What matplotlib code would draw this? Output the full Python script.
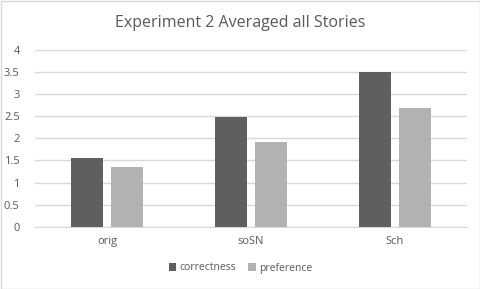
import numpy as np
from matplotlib import pyplot as plt
from matplotlib.patches import Rectangle

categories = ["orig", "soSN", "Sch"]
correctness = [1.55, 2.48, 3.5]
preference = [1.35, 1.92, 2.69]

text_color = "#595959"
grid_color = "#d9d9d9"

plt.rcParams["font.family"] = ["Open Sans", "DejaVu Sans"]

fig = plt.figure(figsize=(4.81, 2.89), dpi=100)
ax = fig.add_axes([35 / 481, 0.2156, 432 / 481, 0.6114])

x = np.arange(len(categories))
w = 0.222
off = 0.142
ax.bar(x - off, correctness, w, color="#5f5f5f", label="correctness", zorder=3)
ax.bar(x + off, preference, w, color="#b2b2b2", label="preference", zorder=3)

ax.set_xlim(-0.5, 2.5)
ax.set_ylim(0, 4)
ax.set_yticks(np.arange(0, 4.01, 0.5))
ax.set_yticklabels(["0", "0.5", "1", "1.5", "2", "2.5", "3", "3.5", "4"])
ax.set_xticks(x)
ax.set_xticklabels(categories)
ax.grid(axis="y", color=grid_color, linewidth=1, zorder=0)
ax.tick_params(length=0, labelsize=8, colors=text_color)
ax.tick_params(axis="y", pad=11)
ax.tick_params(axis="x", pad=7)
for s in ["top", "right", "left"]:
    ax.spines[s].set_visible(False)
ax.spines["bottom"].set_color(grid_color)

fig.text(0.5, 1 - 23 / 289, "Experiment 2 Averaged all Stories", fontsize=11.5,
         color=text_color, ha="center", va="center")

fig.legend(loc="center", bbox_to_anchor=(0.5, 1 - 268 / 289), ncol=2,
           frameon=False, fontsize=7.5, labelcolor=text_color, handlelength=0.7,
           handleheight=0.7, handletextpad=0.3, columnspacing=1.2)

fig.patches.append(Rectangle((0.5 / 481, 0.5 / 289), 1 - 1.5 / 481, 1 - 1.5 / 289,
                             transform=fig.transFigure, fill=False,
                             edgecolor=grid_color, linewidth=1))

fig.savefig("out.png", dpi=100)
